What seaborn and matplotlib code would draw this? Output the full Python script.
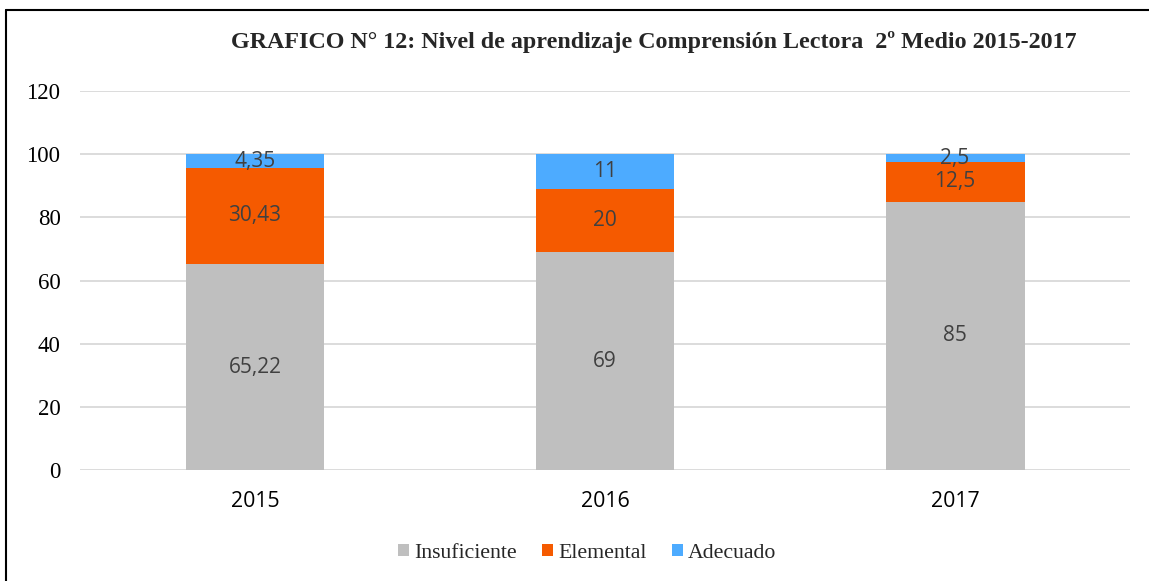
import pandas as pd
import seaborn as sns
import matplotlib.pyplot as plt
from matplotlib.patches import Patch
from matplotlib.lines import Line2D

# chart data
years = ['2015', '2016', '2017']
insuficiente = [65.22, 69, 85]
elemental = [30.43, 20, 12.5]
adecuado = [4.35, 11, 2.5]
insuf_labels = ['65,22', '69', '85']
elem_labels = ['30,43', '20', '12,5']
adec_labels = ['4,35', '11', '2,5']

series_names = ['Insuficiente', 'Elemental', 'Adecuado']
colors = ['#BFBFBF', '#F55A00', '#4DABFF']

sns.set_style('white')
plt.rcParams['font.family'] = ['Liberation Serif', 'DejaVu Serif']

df = pd.DataFrame({'Año': years,
                   'Insuficiente': insuficiente,
                   'Elemental': elemental,
                   'Adecuado': adecuado})
# cumulative tops for stacking, drawn from the tallest down
df['top_insuf'] = df['Insuficiente']
df['top_elem'] = df['top_insuf'] + df['Elemental']
df['top_adec'] = df['top_elem'] + df['Adecuado']

fig = plt.figure(figsize=(11.49, 5.81), dpi=100)
ax = fig.add_axes([0.0696, 0.191, 0.9139, 0.6524])

for col, c in zip(['top_adec', 'top_elem', 'top_insuf'], colors[::-1]):
    sns.barplot(data=df, x='Año', y=col, color=c, width=0.397,
                saturation=1, ax=ax, errorbar=None, linewidth=0)

# containers: 0 adecuado, 1 elemental, 2 insuficiente
lab_font = dict(family='Open Sans', size=15, color='#404040')
for cont, lbls, vals, bottoms in [
        (ax.containers[2], insuf_labels, insuficiente, [0, 0, 0]),
        (ax.containers[1], elem_labels, elemental, insuficiente),
        (ax.containers[0], adec_labels, adecuado, list(df['top_elem']))]:
    for bar, lbl, v, b in zip(cont, lbls, vals, bottoms):
        ax.text(bar.get_x() + bar.get_width() / 2, b + v / 2, lbl,
                ha='center', va='center', **lab_font)

ax.set_xlim(-0.5, 2.5)
ax.set_ylim(0, 120)
ax.set_yticks(range(0, 121, 20))
ax.set_xlabel('')
ax.set_ylabel('')
ax.set_axisbelow(True)
ax.yaxis.grid(True, color='#D9D9D9', linewidth=1.3)
ax.xaxis.grid(False)
sns.despine(ax=ax, left=True, bottom=True)
ax.tick_params(axis='y', length=0, pad=14)
ax.tick_params(axis='x', length=0, pad=15)
for t in ax.get_yticklabels():
    t.set_fontfamily('Liberation Serif')
    t.set_fontsize(16.5)
    t.set_color('black')
for t in ax.get_xticklabels():
    t.set_fontfamily('Open Sans')
    t.set_fontsize(15.3)
    t.set_color('black')

fig.text(0.569, 0.928, 'GRAFICO N° 12: Nivel de aprendizaje Comprensión Lectora  2º Medio 2015-2017',
         ha='center', va='center', fontsize=17.3, fontweight='bold',
         family='Liberation Serif')

handles = [Patch(facecolor=c, edgecolor='none') for c in colors]
fig.legend(handles, series_names, loc='center', bbox_to_anchor=(0.511, 0.048),
           ncol=3, frameon=False, prop={'family': 'Liberation Serif', 'size': 15.7},
           handlelength=0.5, handleheight=0.5, handletextpad=0.25,
           columnspacing=1.15)

# partial frame around the figure
fig.add_artist(Line2D([6 / 1149, 6 / 1149], [0, 1 - 10 / 581],
                      transform=fig.transFigure, color='black', linewidth=1.5))
fig.add_artist(Line2D([6 / 1149, 1], [1 - 10 / 581, 1 - 10 / 581],
                      transform=fig.transFigure, color='black', linewidth=1.5))

fig.savefig('out.png', dpi=100)
